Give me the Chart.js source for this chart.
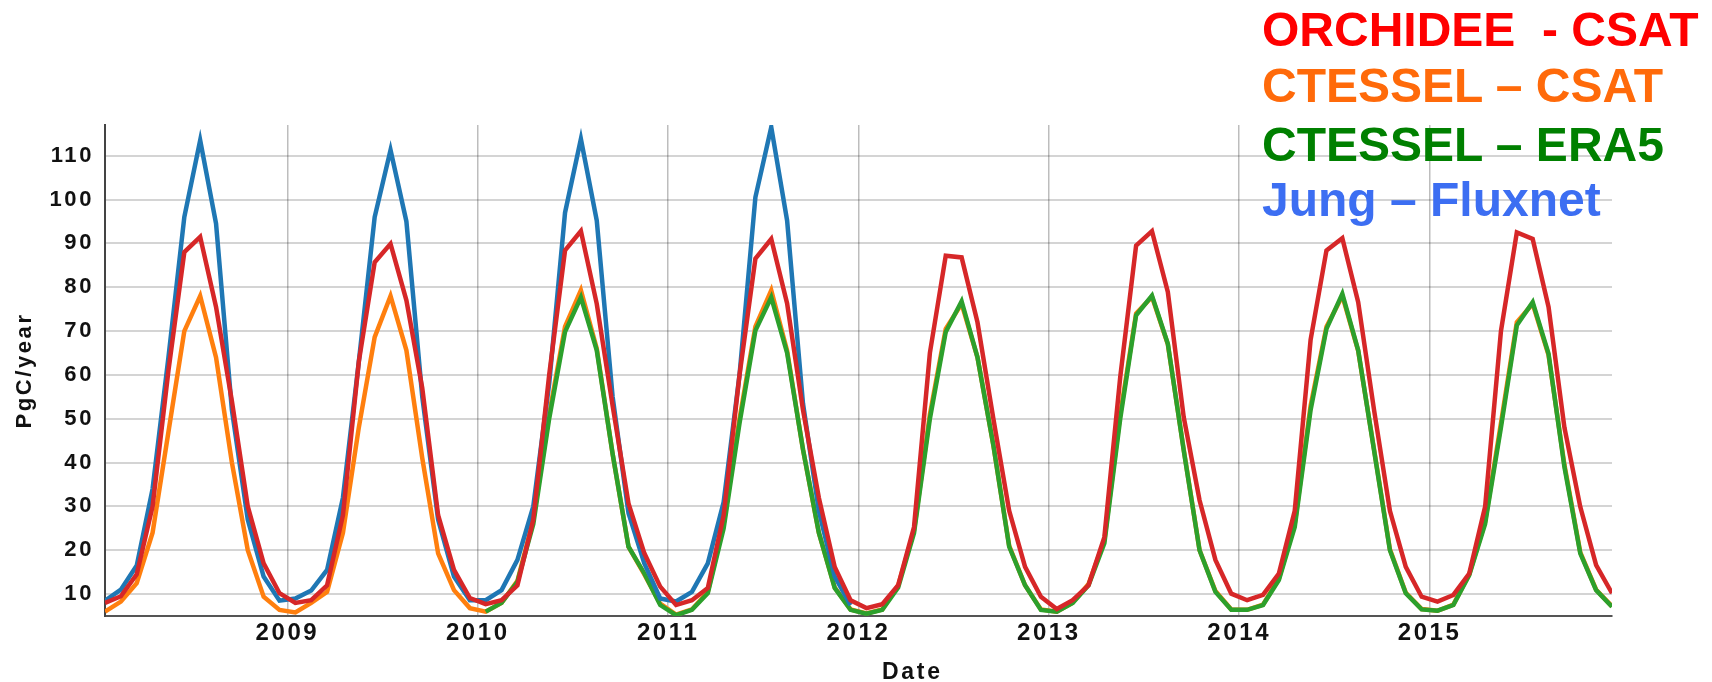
<!DOCTYPE html>
<html>
<head>
<meta charset="utf-8">
<script src="https://cdn.jsdelivr.net/npm/chart.js"></script>
<style>
  body { margin: 0; background: #fff; }
  #wrap { position: relative; width: 1712px; height: 682px; font-family: "Liberation Sans", Arial, sans-serif; }
  .leg { position: absolute; left: 1262px; font-size: 48px; line-height: 48px; font-weight: bold; white-space: pre; }
  #xtitle { position: absolute; top: 658px; left: 882px; font-size: 23px; font-weight: bold; letter-spacing: 2.7px; color: #111; }
</style>
</head>
<body>
<div id="wrap">
  <canvas id="gppChart" width="1712" height="682"></canvas>
  <div class="leg" style="top:6px;color:#ff0000">ORCHIDEE  - CSAT</div>
  <div class="leg" style="top:62px;color:#ff6a0a">CTESSEL – CSAT</div>
  <div class="leg" style="top:121px;color:#008000">CTESSEL – ERA5</div>
  <div class="leg" style="top:176px;color:#3c6ef2">Jung – Fluxnet</div>
  <div id="xtitle">Date</div>
</div>
<script>
// monthly values, Jan 2008 .. Dec 2015 (PgC/year)
const years = [2008, 2009, 2010, 2011, 2012, 2013, 2014, 2015];
const months = [];
years.forEach(y => { for (let m = 1; m <= 12; m++) months.push(y + (m - 0.5) / 12); });

const orchideeCsat = [
  8, 9.5, 14.5, 30, 61, 88, 91.5, 75.5, 54, 30, 17, 10.2,
  8, 8.6, 12, 28, 63, 85.7, 89.9, 77, 57, 28, 15.5, 9.1,
  7.7, 8.6, 12, 27, 60, 88.4, 92.8, 76.2, 53, 30.7, 19.3, 11.7,
  7.5, 8.6, 11.4, 28, 60, 86.5, 91, 76.3, 52, 32, 16.2, 8.6,
  6.8, 7.7, 12, 25.3, 65, 87.2, 86.8, 72, 50, 29, 16.2, 9.4,
  6.6, 8.6, 12, 23, 59.5, 89.5, 92.8, 78.9, 50.4, 31.4, 17.8, 10.1,
  8.6, 9.8, 14.7, 29, 68, 88.4, 91.2, 76.6, 52, 29, 16.2, 9.4,
  8.3, 9.8, 14.7, 29.9, 70, 92.5, 91, 75.5, 48, 29.9, 16.6, 10.2
];
const ctesselCsat = [
  6, 8.3, 12.5, 24, 47, 70, 78, 64, 40, 20, 9.4, 6.4,
  5.8, 8, 10.5, 24, 48, 68.6, 78, 65.6, 41, 19.3, 10.9, 6.8,
  6, 8, 13, 27, 51, 71, 79.3, 66, 42, 20.8, 14.5, 7.8,
  5.3, 6.5, 10.5, 26, 50, 71, 79.3, 65.5, 43, 24, 11.5, 6.5,
  5.6, 6.5, 12, 24.5, 51, 70.5, 76.2, 64, 44, 21, 12, 6.5,
  6, 8, 12.3, 22.3, 51, 74, 77.8, 67, 43, 20, 10.7, 6.5,
  6.4, 7.6, 13.5, 26, 53, 71, 78, 65.5, 43, 20.2, 10.3, 6.6,
  6.2, 7.6, 14.5, 26.5, 49, 72, 76.2, 64.5, 39.5, 19.5, 11, 7.2
];
const ctesselEra5 = [
  null, null, null, null, null, null, null, null, null, null, null, null,
  null, null, null, null, null, null, null, null, null, null, null, null,
  6, 8, 12.8, 26, 50, 69.8, 77.7, 65.6, 42, 20.8, 14.7, 7.5,
  5.2, 6.4, 10.2, 25, 49, 70.1, 77.7, 65, 43, 24, 11.4, 6.4,
  5.5, 6.4, 11.5, 23.9, 50, 69.8, 76.8, 64, 44, 20.8, 12, 6.4,
  6, 8, 12, 21.6, 50, 73.6, 78.1, 67.1, 42.8, 20, 10.5, 6.4,
  6.4, 7.5, 13.2, 25.3, 52, 70.5, 78.5, 65.6, 42.8, 20, 10.2, 6.5,
  6.2, 7.5, 14.3, 26, 48, 71.3, 76.6, 64.8, 39, 19.3, 10.9, 7.1
];
const jungFluxnet = [
  8.5, 11, 16.5, 34, 64, 96, 113.5, 94.5, 52, 27, 14, 8.5,
  9, 10.8, 15.5, 32, 63, 96, 111.3, 95, 55, 27, 14, 8.6,
  8.6, 10.9, 17.8, 30, 58, 97, 113.8, 95.2, 55, 28.5, 17, 9,
  8.3, 10.5, 17, 31, 60, 100.5, 116.5, 95.2, 53.5, 29, 14, 7.5
];

const xTicks = [2009, 2010, 2011, 2012, 2013, 2014, 2015];
const yTicks = [10, 20, 30, 40, 50, 60, 70, 80, 90, 100, 110];

function toPoints(values) {
  return values.map((v, i) => ({ x: months[i], y: v }));
}

// letter spacing like the original bold labels
const spacedText = {
  id: 'spacedText',
  beforeDraw(chart) { chart.ctx.save(); chart.ctx.letterSpacing = '2.6px'; },
  afterDraw(chart) { chart.ctx.restore(); }
};

Chart.defaults.font.family = '"Liberation Sans", Arial, sans-serif';
Chart.defaults.font.weight = 'bold';
Chart.defaults.color = '#111';

const ctx = document.getElementById('gppChart').getContext('2d');
const lineStyle = { borderWidth: 4.5, pointRadius: 0, tension: 0, fill: false, spanGaps: false };

new Chart(ctx, {
  type: 'line',
  data: {
    datasets: [
      { label: 'ORCHIDEE - CSAT', data: toPoints(orchideeCsat), borderColor: '#d62728', order: 1, ...lineStyle },
      { label: 'CTESSEL – CSAT', data: toPoints(ctesselCsat), borderColor: '#ff7f0e', order: 4, ...lineStyle },
      { label: 'CTESSEL – ERA5', data: toPoints(ctesselEra5), borderColor: '#2ca02c', order: 3, ...lineStyle },
      { label: 'Jung – Fluxnet', data: toPoints(jungFluxnet), borderColor: '#1f77b4', order: 2, ...lineStyle }
    ]
  },
  options: {
    responsive: false,
    animation: false,
    layout: { padding: { top: 125, right: 100, left: 0, bottom: 0 } },
    plugins: { legend: { display: false }, tooltip: { enabled: false } },
    scales: {
      x: {
        type: 'linear',
        min: months[0],
        max: months[months.length - 1],
        afterBuildTicks: scale => { scale.ticks = xTicks.map(v => ({ value: v })); },
        afterFit: scale => { scale.height = 66; },
        ticks: { font: { size: 24, weight: 'bold' }, padding: 3, callback: v => String(v), maxRotation: 0 },
        grid: { color: 'rgba(0,0,0,0.26)', lineWidth: 1.5, drawTicks: false },
        border: { display: true, color: '#555', width: 2 }
      },
      y: {
        min: 5,
        max: 117,
        afterBuildTicks: scale => { scale.ticks = yTicks.map(v => ({ value: v })); },
        afterFit: scale => { scale.width = 105; },
        ticks: { font: { size: 22, weight: 'bold' }, padding: 11 },
        grid: { color: 'rgba(0,0,0,0.17)', lineWidth: 2, drawTicks: false },
        border: { display: true, color: '#444', width: 2 },
        title: { display: true, text: 'PgC/year', font: { size: 22, weight: 'bold' }, padding: { top: 12, bottom: 0 } }
      }
    }
  },
  plugins: [spacedText]
});
</script>
</body>
</html>
